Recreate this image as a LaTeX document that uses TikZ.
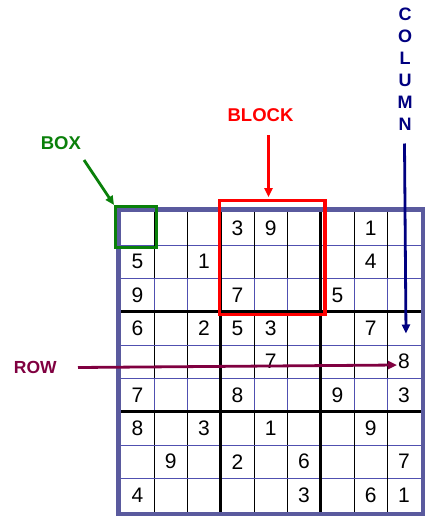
\documentclass[tikz,border=0pt]{standalone}
\usepackage{fontspec}
\setmainfont{Liberation Sans}
\usetikzlibrary{arrows.meta}
\definecolor{frameblue}{HTML}{5A5A9E}
\definecolor{thinblue}{HTML}{5050B0}
\definecolor{boxgreen}{HTML}{0A800A}
\definecolor{rowmaroon}{HTML}{800040}
\definecolor{colnavy}{HTML}{000080}
\begin{document}
\begin{tikzpicture}[x=1pt,y=-1pt,
  digit/.style={font=\fontsize{21}{21}\selectfont, inner sep=0pt},
  lbl/.style={font=\fontsize{18.5}{18.5}\selectfont\bfseries, inner sep=0pt},
  thinh/.style={draw=thinblue, line width=0.9pt},
  thinv/.style={draw=black, line width=0.9pt},
  thickline/.style={draw=black, line width=3pt},
  ptr/.style={line width=2.8pt, -{Triangle[length=9pt,width=8pt]}},
]
\useasboundingbox (0,0) rectangle (445,525);
% thin grid lines
\foreach \i in {1,2,4,5,7,8}{
  \draw[thinh] (120.7,{211.7+\i*33.333}) -- (420.7,{211.7+\i*33.333});
  \draw[thinv] ({120.7+\i*33.333},211.7) -- ({120.7+\i*33.333},511.7);
  \foreach \r in {2,5}{
    \draw[thinh] ({120.7+\i*33.333},{211.7+\r*33.333}) -- ({120.7+\i*33.333},{211.7+(\r+1)*33.333});
  }
}
% thick block lines
\foreach \i in {3,6}{
  \draw[thickline] (120.7,{211.7+\i*33.333}) -- (420.7,{211.7+\i*33.333});
  \draw[thickline] ({120.7+\i*33.333},211.7) -- ({120.7+\i*33.333},511.7);
}
% outer frame
\draw[frameblue, line width=4.6pt] (118.4,209.4) rectangle (423,514);
% digits
\foreach \r/\c/\d in {1/4/3,1/5/9,1/8/1,
  2/1/5,2/3/1,2/8/4,
  3/1/9,3/4/7,3/7/5,
  4/1/6,4/3/2,4/4/5,4/5/3,4/8/7,
  5/5/7,5/9/8,
  6/1/7,6/4/8,6/7/9,6/9/3,
  7/1/8,7/3/3,7/5/1,7/8/9,
  8/2/9,8/4/2,8/6/6,8/9/7,
  9/1/4,9/6/3,9/8/6,9/9/1}{
  \node[digit] (d\r\c) at ({120.7+(\c-0.5)*33.333},{211.7+(\r-0.5)*33.333}) {\d};
}
% highlighted box and block
\node[draw=boxgreen, line width=3pt, minimum width=41.3pt, minimum height=41pt, inner sep=0pt] (boxsel) at (136.2,227) {};
\node[draw=red, line width=3.5pt, minimum width=105.5pt, minimum height=114.2pt, inner sep=0pt] (blocksel) at (272,257.4) {};
% labels
\node[lbl, text=boxgreen] (boxlbl) at (60.8,143) {BOX};
\node[lbl, text=red] (blocklbl) at (260.5,115.3) {BLOCK};
\node[lbl, text=rowmaroon, font=\fontsize{17.5}{17.5}\selectfont\bfseries] (rowlbl) at (35.3,367.8) {ROW};
\node[lbl, text=colnavy, align=center, font=\fontsize{18}{21.9}\selectfont\bfseries] (collbl) at (405,69.2) {C\\O\\L\\U\\M\\N};
% arrows
\coordinate (boxfrom) at (84,160);
\draw[ptr, boxgreen] (boxfrom) -- (boxsel.north west);
\coordinate (blockfrom) at (268.5,135);
\draw[ptr, red, shorten >=1.5pt] (blockfrom) -- (blockfrom |- blocksel.north);
\coordinate (colfrom) at (404.5,143.5);
\coordinate (colto) at (406,333.5);
\draw[ptr, colnavy] (colfrom) -- (colto);
\coordinate (rowfrom) at (78,367.5);
\coordinate (rowto) at (397,365);
\draw[ptr, rowmaroon] (rowfrom) -- (rowto);
\end{tikzpicture}
\end{document}
